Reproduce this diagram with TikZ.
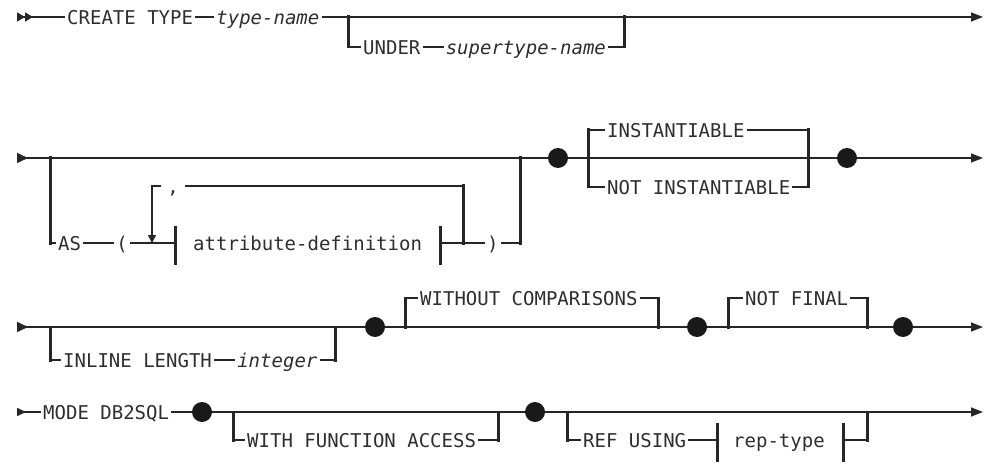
\documentclass[tikz,border=0pt]{standalone}
\usepackage{fontspec}
\newfontfamily\synfont{DejaVu Sans Mono}
\usetikzlibrary{arrows.meta,positioning}

\begin{document}
\begin{tikzpicture}[
  x=1pt, y=1pt,
  kw/.style={font=\synfont\fontsize{19}{19}\selectfont, text=black!82, inner xsep=2pt, inner ysep=0pt, text height=15pt, text depth=0pt, anchor=west},
  var/.style={kw, font=\synfont\itshape\fontsize{19}{19}\selectfont},
  rail/.style={line width=1.6pt, draw=black!85},
  fork/.style={line width=3pt, draw=black!85, line cap=rect},
  dot/.style={circle, fill=black!90, minimum size=20pt, inner sep=0pt},
  begin1/.style={{Triangle[reversed,length=11pt,width=10pt]}-},
  begin2/.style={{Triangle[reversed,length=8pt,width=9pt]Triangle[reversed,length=8pt,width=9pt]}-},
  finish/.style={-{Triangle[length=12pt,width=9pt]}}
]
\useasboundingbox (0,0) rectangle (987,464);

% row 1
\coordinate (s1) at (17,447);
\coordinate (e1) at (983,447);
\node[kw] (create) at (65,447) {CREATE TYPE};
\node[var, right=19pt of create] (tname) {type-name};
\coordinate (u1) at (348,447);
\coordinate (u2) at (624,447);
\node[kw] (under) at (361,417) {UNDER};
\node[var, right=21pt of under] (stname) {supertype-name};

\draw[rail, begin2] (s1) -- (create);
\draw[rail] (create) -- (tname);
\draw[rail, finish] (tname) -- (e1);
\draw[rail] (u1) |- (under) -- (stname) -| (u2);
\draw[fork] (u1) -- (u1 |- under) (u2) -- (u2 |- under);

% row 2
\coordinate (s2) at (17,306);
\coordinate (e2) at (983,306);
\coordinate (a1) at (50,306);
\coordinate (a2) at (520,306);
\node[dot] (d1) at (558,306) {};
\coordinate (i1) at (588,306);
\coordinate (i2) at (808,306);
\node[dot] (d2) at (847,306) {};
\node[kw] (as) at (56,221) {AS};
\node[kw, right=31pt of as] (lpar) {(};
\coordinate (b1) at (175,221);
\coordinate (b2) at (440,221);
\node[kw] (attr) at (191,221) {attribute-definition};
\node[kw] (rpar) at (485,221) {)};
\coordinate (r1) at (152,221);
\coordinate (r2) at (463,221);
\node[kw, anchor=center, inner xsep=6pt] (comma) at (173,278) {,};
\node[kw] (inst) at (605,334) {INSTANTIABLE};
\node[kw] (notinst) at (605,277) {NOT INSTANTIABLE};

\draw[rail, begin1] (s2) -- (d1);
\draw[rail] (d1) -- (d2);
\draw[rail, finish] (d2) -- (e2);
\draw[rail] (a1) |- (as) -- (lpar) -- (b1);
\draw[rail] (b2) -- (rpar) -| (a2);
\draw[fork] (a1) -- (a1 |- as) (a2) -- (a2 |- rpar);
\draw[fork] ([yshift=16pt]b1) -- ([yshift=-20pt]b1);
\draw[fork] ([yshift=16pt]b2) -- ([yshift=-20pt]b2);
\draw[rail] (r2) |- (comma);
\draw[rail, -{Triangle[length=8pt,width=8pt]}] (comma) -| (r1);
\draw[fork] (r2) -- (r2 |- comma);
\draw[rail] (i1) |- (inst) -| (i2);
\draw[rail] (i1) |- (notinst) -| (i2);
\draw[fork] (i1 |- inst) -- (i1 |- notinst) (i2 |- inst) -- (i2 |- notinst);

% row 3
\coordinate (s3) at (17,137);
\coordinate (e3) at (983,137);
\coordinate (c1) at (50,137);
\coordinate (c2) at (335,137);
\node[dot] (d3) at (375,137) {};
\coordinate (w1) at (405,137);
\coordinate (w2) at (658,137);
\node[dot] (d4) at (697,137) {};
\coordinate (f1) at (728,137);
\coordinate (f2) at (867,137);
\node[dot] (d5) at (903,137) {};
\node[kw] (inline) at (61,104) {INLINE LENGTH};
\node[var, right=21pt of inline] (integer) {integer};
\node[kw] (withoutc) at (418,166) {WITHOUT COMPARISONS};
\node[kw] (notfinal) at (743,166) {NOT FINAL};

\draw[rail, begin1] (s3) -- (d3);
\draw[rail] (d3) -- (d4) (d4) -- (d5);
\draw[rail, finish] (d5) -- (e3);
\draw[rail] (c1) |- (inline) -- (integer) -| (c2);
\draw[rail] (w1) |- (withoutc) -| (w2);
\draw[rail] (f1) |- (notfinal) -| (f2);
\draw[fork] (c1) -- (c1 |- inline) (c2) -- (c2 |- integer);
\draw[fork] (w1) -- (w1 |- withoutc) (w2) -- (w2 |- withoutc);
\draw[fork] (f1) -- (f1 |- notfinal) (f2) -- (f2 |- notfinal);

% row 4
\coordinate (s4) at (17,52);
\coordinate (e4) at (983,52);
\node[kw] (mode) at (41,52) {MODE DB2SQL};
\node[dot] (d6) at (202,52) {};
\coordinate (h1) at (233,52);
\coordinate (h2) at (498,52);
\node[dot] (d7) at (535,52) {};
\coordinate (g1) at (567,52);
\coordinate (g2) at (867,52);
\node[kw] (withfa) at (245,24) {WITH FUNCTION ACCESS};
\node[kw] (refusing) at (581,24) {REF USING};
\coordinate (b3) at (717,24);
\coordinate (b4) at (843,24);
\node[kw] (reptype) at (731,24) {rep-type};

\draw[rail, {Triangle[reversed,length=9pt,width=8pt]}-] (s4) -- (mode);
\draw[rail] (mode) -- (d6) (d6) -- (d7);
\draw[rail, finish] (d7) -- (e4);
\draw[rail] (h1) |- (withfa) -| (h2);
\draw[rail] (g1) |- (refusing) -- (b3);
\draw[rail] (b4) -| (g2);
\draw[fork] (h1) -- (h1 |- withfa) (h2) -- (h2 |- withfa);
\draw[fork] (g1) -- (g1 |- refusing) (g2) -- (g2 |- refusing);
\draw[fork] ([yshift=16pt]b3) -- ([yshift=-20pt]b3);
\draw[fork] ([yshift=16pt]b4) -- ([yshift=-20pt]b4);

\end{tikzpicture}
\end{document}
